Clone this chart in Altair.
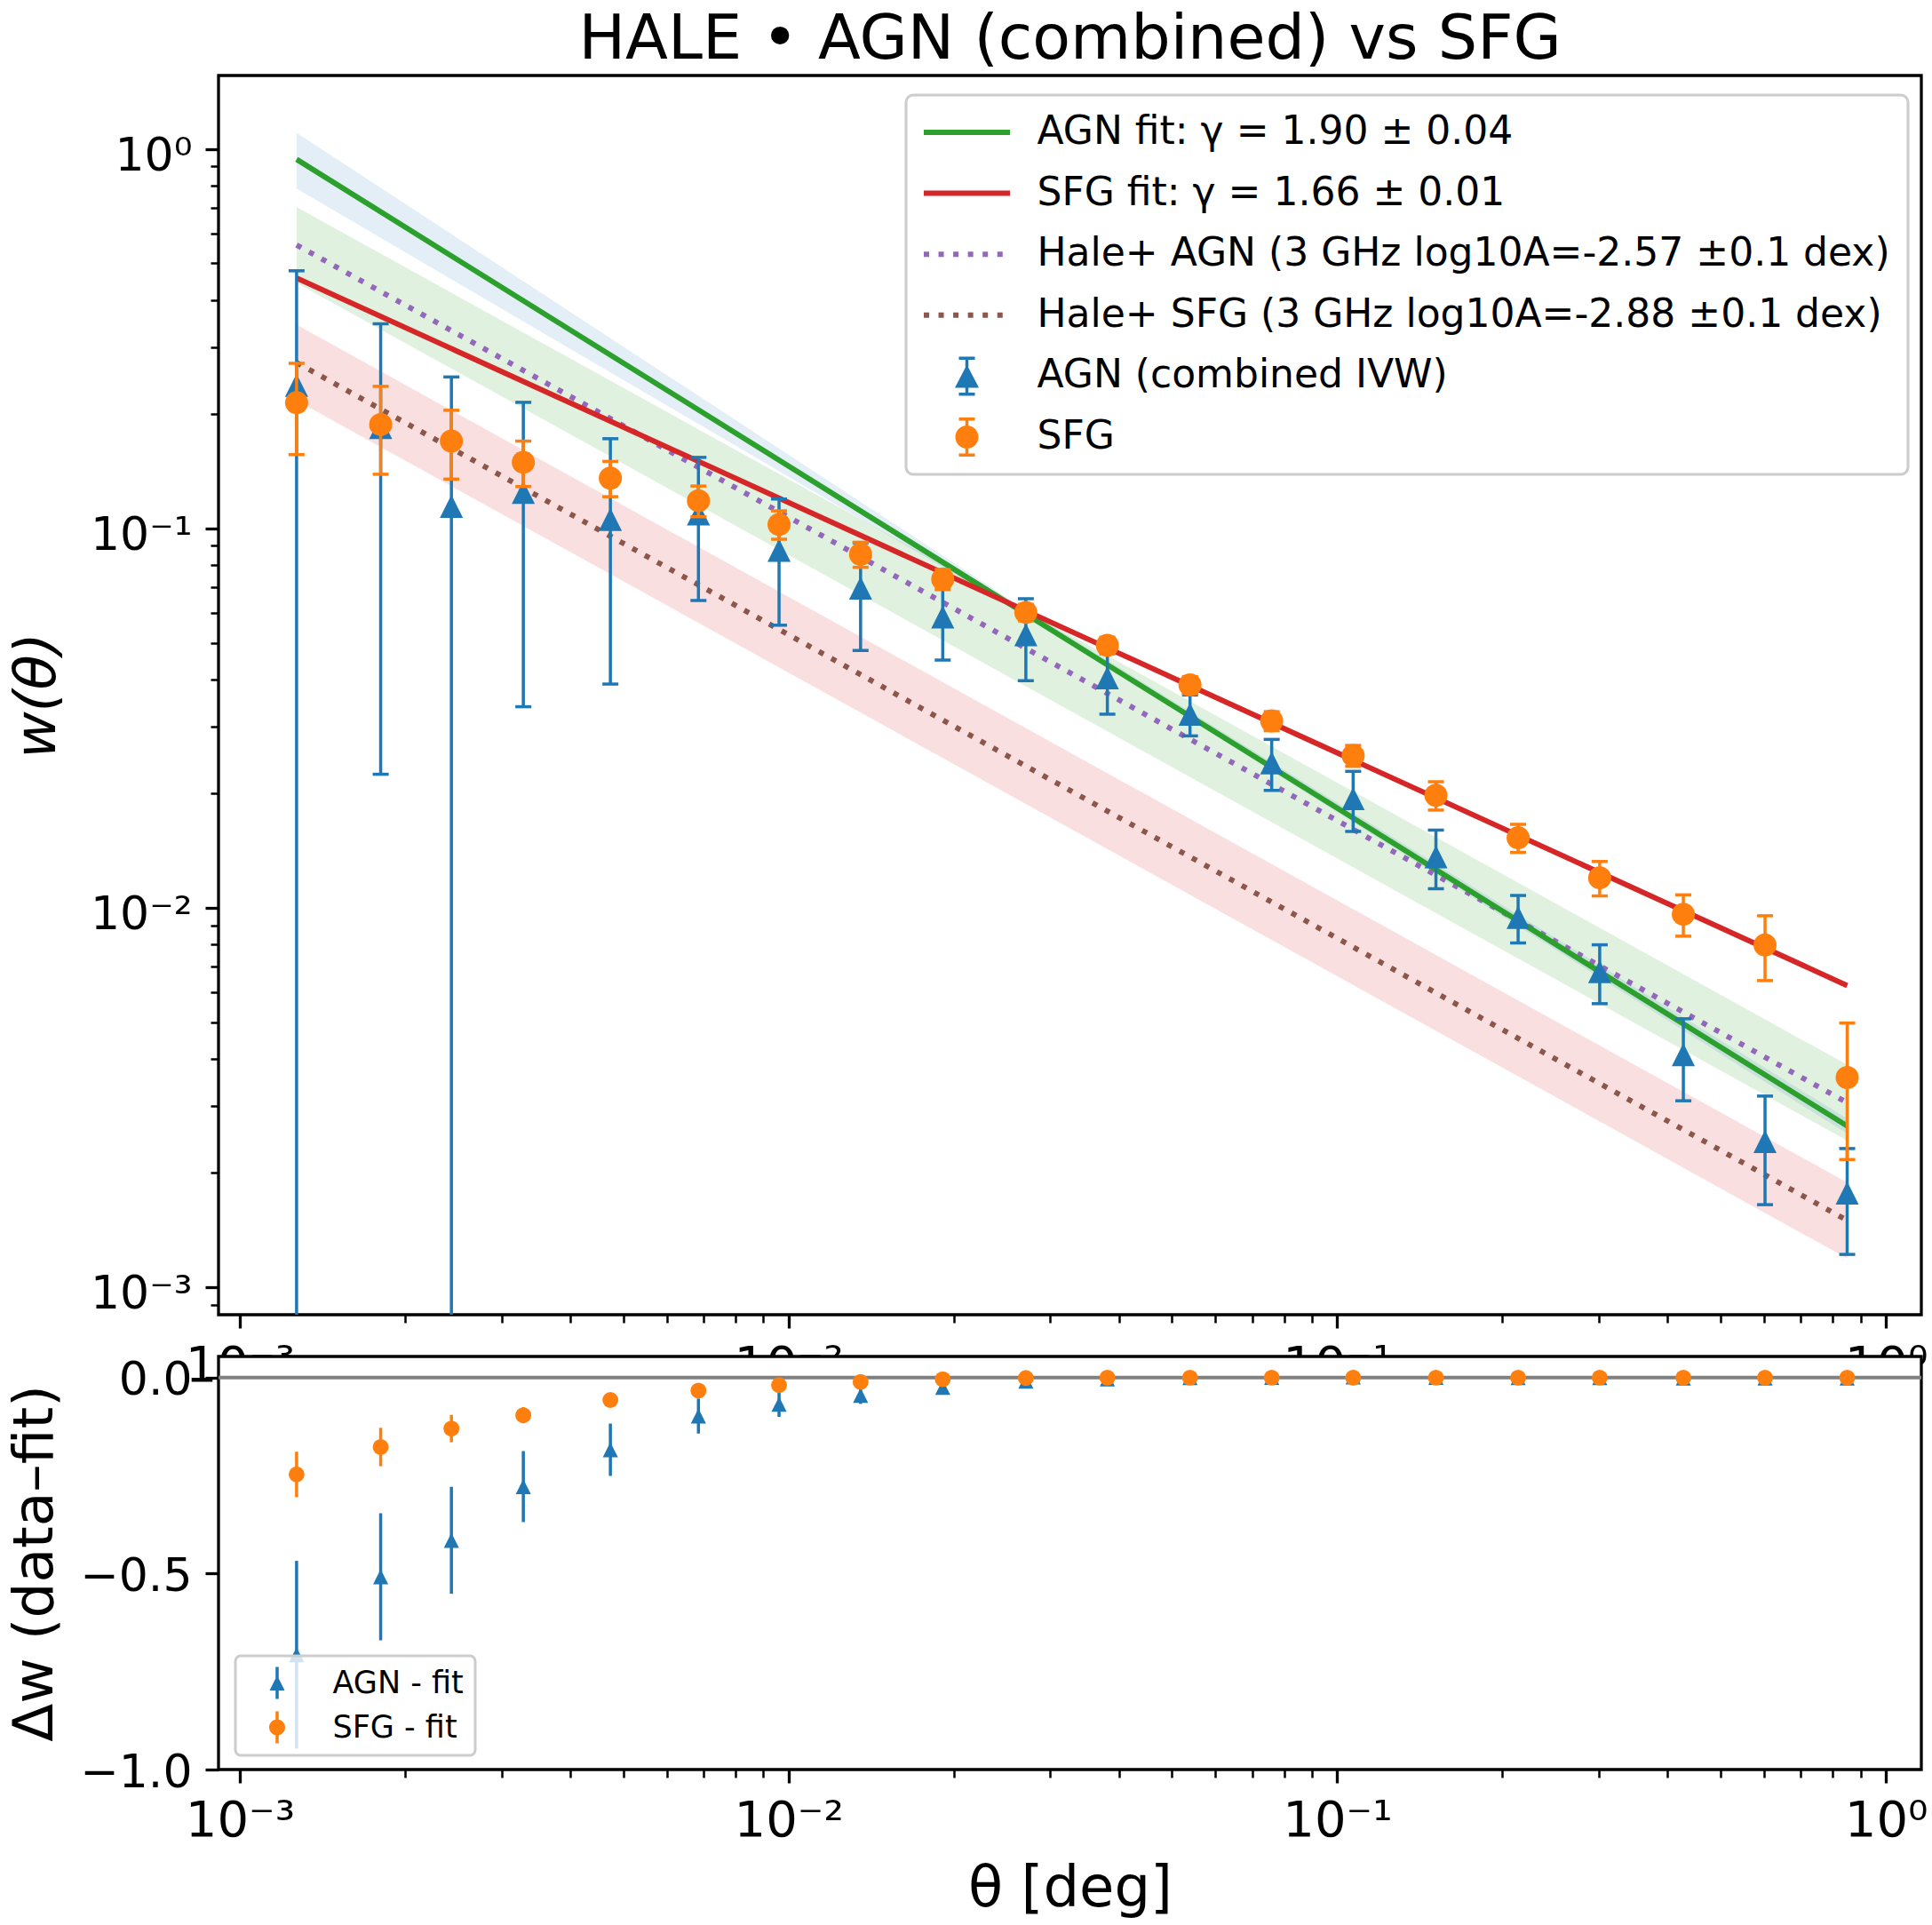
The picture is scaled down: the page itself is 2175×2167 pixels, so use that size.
import altair as alt
import pandas as pd

FONT = "DejaVu Sans"
BLUE, ORANGE, GREEN, RED, PURPLE, BROWN = "#1f77b4", "#ff7f0e", "#2ca02c", "#d62728", "#9467bd", "#8c564b"

# ---------------- data ----------------
theta = [0.001269, 0.001806, 0.002430, 0.003286, 0.004735, 0.006852, 0.00961, 0.01353, 0.01910, 0.02707,
         0.03811, 0.05391, 0.07595, 0.1069, 0.1513, 0.2136, 0.3008, 0.4273, 0.6020, 0.8498]
agn_w = [0.2385, 0.1845, 0.1144, 0.1245, 0.1057, 0.1093, 0.0876, 0.0697, 0.0585, 0.0525,
         0.0404, 0.0324, 0.0241, 0.0194, 0.01363, 0.00943, 0.00679, 0.0041, 0.00242, 0.00177]
agn_err = [0.2395, 0.162, 0.1365, 0.0906, 0.0668, 0.0447, 0.032, 0.022, 0.0135, 0.0128,
           0.008, 0.004, 0.0037, 0.0035, 0.0024, 0.00135, 0.0012, 0.001, 0.00077, 0.00055]
sfg_w = [0.2146, 0.188, 0.170, 0.1495, 0.1358, 0.1184, 0.1025, 0.0855, 0.0735, 0.0601,
         0.0492, 0.0387, 0.0311, 0.0252, 0.0198, 0.0153, 0.0120, 0.00962, 0.00798, 0.00357]
sfg_err = [0.058, 0.049, 0.035, 0.0205, 0.0145, 0.011, 0.0088, 0.0065, 0.0045, 0.003,
           0.0025, 0.002, 0.0018, 0.0016, 0.0017, 0.0013, 0.00125, 0.0012, 0.00155, 0.0014]
agn_resid = [-0.707, -0.508, -0.415, -0.278, -0.184, -0.098, -0.068, -0.045, -0.025, -0.009,
             -0.003, 0.0, 0.001, 0.002, 0.001, 0.0, 0.0, -0.001, -0.001, -0.001]
sfg_resid = [-0.247, -0.177, -0.130, -0.096, -0.057, -0.033, -0.019, -0.011, -0.004, -0.001,
             0.0, 0.0, 0.0, 0.0, 0.0, 0.0, 0.0, 0.0, 0.0, 0.0]

fit_theta = [0.001269, 0.8498]
agn_fit = [0.94, 0.00266]
sfg_fit = [0.4575, 0.00624]
hale_agn = [0.559, 0.003065]
hale_agn_hi = [0.7037, 0.003859]
hale_agn_lo = [0.444, 0.002435]
hale_sfg = [0.2738, 0.0015]
hale_sfg_hi = [0.3447, 0.001888]
hale_sfg_lo = [0.2175, 0.001191]
band_theta = [0.001269, 0.0265, 0.8498]
agn_band_hi = [1.105, 0.0622, 0.00278]
agn_band_lo = [0.7875, 0.0600, 0.00254]

x_major = [0.001, 0.01, 0.1, 1.0]
x_minor = [0.002, 0.003, 0.004, 0.005, 0.006, 0.007, 0.008, 0.009,
           0.02, 0.03, 0.04, 0.05, 0.06, 0.07, 0.08, 0.09,
           0.2, 0.3, 0.4, 0.5, 0.6, 0.7, 0.8, 0.9]
y_major = [0.001, 0.01, 0.1, 1.0]
y_minor = [0.0009] + x_minor
res_ticks = [0.0, -0.5, -1.0]
zero_line = [0.0]

legend_labels = ["AGN fit: γ = 1.90 ± 0.04", "SFG fit: γ = 1.66 ± 0.01",
                 "Hale+ AGN (3 GHz log10A=-2.57 ±0.1 dex)", "Hale+ SFG (3 GHz log10A=-2.88 ±0.1 dex)",
                 "AGN (combined IVW)", "SFG"]
res_legend_labels = ["AGN - fit", "SFG - fit"]

# ---------------- layout / style ----------------
W, H_TOP, H_BOT = 1917, 1395, 465
XS = alt.Scale(type="log", domain=[9.145e-4, 1.16], nice=False)
YS = alt.Scale(type="log", domain=[8.46e-4, 1.564], nice=False)
RS = alt.Scale(domain=[-1.0, 0.054], nice=False, zero=False)

POW = ("datum.value >= 0.5 ? '10⁰' : datum.value >= 0.05 ? '10⁻¹' : "
       "datum.value >= 0.005 ? '10⁻²' : '10⁻³'")

def major_axis(orient, values, expr, size, pad, offset=0, **kw):
    return alt.Axis(orient=orient, values=values, labelExpr=expr, labelFont=FONT, labelFontSize=size,
                    labelColor="black", labelPadding=pad, labelOffset=offset, labelFlush=False,
                    labelOverlap=False, tickSize=15, tickWidth=3.3, tickColor="black",
                    domain=False, grid=False, **kw)

def minor_axis(orient, values):
    return alt.Axis(orient=orient, values=values, labels=False, tickSize=9, tickWidth=2.5,
                    tickColor="black", domain=False, grid=False, title=None)

X_MAJ_TOP = major_axis("bottom", x_major, POW, 56, 15, title=None)
X_MAJ_BOT = major_axis("bottom", x_major, POW, 56, 15, title="θ [deg]", titleFont=FONT, titleFontSize=64,
                       titleFontWeight="normal", titleColor="black", titleX=W / 2, titleY=134,
                       titleBaseline="middle", titleAlign="center", titleAngle=0)
Y_MAJ_TOP = major_axis("left", y_major, POW, 52, 15, offset=8, title="w(θ)", titleFont=FONT,
                       titleFontSize=64, titleFontStyle="italic", titleFontWeight="normal",
                       titleColor="black", titleX=-204, titleY=H_TOP / 2, titleAngle=270,
                       titleBaseline="middle", titleAlign="center")
RES_EXPR = "datum.value == 0 ? '0.0' : datum.value == -0.5 ? '−0.5' : '−1.0'"
Y_MAJ_BOT = major_axis("left", res_ticks, RES_EXPR, 52, 15, offset=3, title="Δw (data–fit)",
                       titleFont=FONT, titleFontSize=63, titleFontWeight="normal", titleColor="black",
                       titleX=-207, titleY=H_BOT / 2, titleAngle=270, titleBaseline="middle",
                       titleAlign="center")

def X(axis=None):
    return alt.X("theta:Q", scale=XS, axis=axis)

def YT(field, axis=None):
    return alt.Y(f"{field}:Q", scale=YS, axis=axis)

def YR(field, axis=None):
    return alt.Y(f"{field}:Q", scale=RS, axis=axis)

df = pd.DataFrame(dict(theta=theta, agn=agn_w, agn_err=agn_err, sfg=sfg_w, sfg_err=sfg_err,
                       agn_res=agn_resid, sfg_res=sfg_resid))
line_df = pd.DataFrame(dict(theta=fit_theta, agn_fit=agn_fit, sfg_fit=sfg_fit, hale_agn=hale_agn,
                            hale_agn_hi=hale_agn_hi, hale_agn_lo=hale_agn_lo, hale_sfg=hale_sfg,
                            hale_sfg_hi=hale_sfg_hi, hale_sfg_lo=hale_sfg_lo))
band_df = pd.DataFrame(dict(theta=band_theta, hi=agn_band_hi, lo=agn_band_lo))

TRI = "M0,-1L-1,1L1,1Z"

# ---------------- top panel ----------------
red_band = alt.Chart(line_df).mark_area(color=RED, opacity=0.15).encode(
    x=X(), y=YT("hale_sfg_lo"), y2="hale_sfg_hi:Q")
green_band = alt.Chart(line_df).mark_area(color=GREEN, opacity=0.15).encode(
    x=X(), y=YT("hale_agn_lo"), y2="hale_agn_hi:Q")
blue_band = alt.Chart(band_df).mark_area(color=BLUE, opacity=0.12).encode(
    x=X(), y=YT("lo"), y2="hi:Q")
purple_line = alt.Chart(line_df).mark_line(color=PURPLE, strokeWidth=6, strokeDash=[6, 10]).encode(
    x=X(), y=YT("hale_agn"))
brown_line = alt.Chart(line_df).mark_line(color=BROWN, strokeWidth=6, strokeDash=[6, 10]).encode(
    x=X(), y=YT("hale_sfg"))
green_line = alt.Chart(line_df).mark_line(color=GREEN, strokeWidth=6).encode(x=X(), y=YT("agn_fit"))
red_line = alt.Chart(line_df).mark_line(color=RED, strokeWidth=6).encode(x=X(), y=YT("sfg_fit"))


def top_errorbars(field, efield, color):
    base = alt.Chart(df).transform_calculate(
        hi=f"datum.{field} + datum.{efield}",
        lo=f"max(datum.{field} - datum.{efield}, 1e-9)",
        lo_raw=f"datum.{field} - datum.{efield}")
    rule = base.mark_rule(color=color, strokeWidth=3.5, clip=True).encode(x=X(), y=YT("lo"), y2="hi:Q")
    cap_hi = base.mark_tick(orient="horizontal", size=18, thickness=3.5, color=color, opacity=1,
                            clip=True).encode(x=X(), y=YT("hi"))
    cap_lo = base.transform_filter("datum.lo_raw > 0").mark_tick(
        orient="horizontal", size=18, thickness=3.5, color=color, opacity=1, clip=True).encode(
        x=X(), y=YT("lo_raw"))
    return [rule, cap_hi, cap_lo]


agn_pts = alt.Chart(df).mark_point(shape=TRI, size=676, filled=True, color=BLUE, opacity=1,
                                   strokeWidth=0).encode(x=X(X_MAJ_TOP), y=YT("agn", Y_MAJ_TOP))
sfg_pts = alt.Chart(df).mark_point(shape="circle", size=676, filled=True, color=ORANGE, opacity=1,
                                   strokeWidth=0).encode(x=X(minor_axis("bottom", x_minor)),
                                                         y=YT("sfg", minor_axis("left", y_minor)))

# legend symbols (shape definitions, 20 px per unit)
INV = "M-2.425,-1.1L-2.42,-1.1M-2.425,1.1L-2.42,1.1"
SOLID = INV + "M-2.425,-0.15H2.425V0.15H-2.425Z"
DOTS = INV + "".join(
    f"M{-2.425 + i * 0.8275:.4f},-0.15H{-2.425 + i * 0.8275 + 0.3:.4f}V0.15H{-2.425 + i * 0.8275:.4f}Z"
    for i in range(6))
EB = INV + "M-0.45,-1.1H0.45V-0.925H-0.45Z" + "M-0.45,0.925H0.45V1.1H-0.45Z" + "M-0.0875,-1H0.0875V1H-0.0875Z"
AGN_SYM = EB + "M0,-0.65L0.675,0.65L-0.675,0.65Z"
SFG_SYM = EB + "M0.65,0A0.65,0.65,0,1,1,-0.65,0A0.65,0.65,0,1,1,0.65,0Z"
legend_paths = [SOLID, SOLID, DOTS, DOTS, AGN_SYM, SFG_SYM]
legend_colors = [GREEN, RED, PURPLE, BROWN, BLUE, ORANGE]

LEG_TOP = alt.Legend(title=None, orient="none", legendX=774, legendY=22, symbolSize=1600,
                     symbolStrokeWidth=0, symbolOpacity=1, symbolOffset=26.5, labelOffset=57,
                     labelFont=FONT, labelFontSize=44, labelColor="black", labelLimit=1500,
                     rowPadding=24.6, padding=20, fillColor="rgba(255,255,255,0.8)",
                     strokeColor="#cccccc", cornerRadius=8)
legend_top = alt.Chart(pd.DataFrame({"series": legend_labels})).transform_filter("false").mark_point(
    filled=True, opacity=1).encode(
    x=X(), y=YT("w"),
    fill=alt.Fill("series:N", scale=alt.Scale(domain=legend_labels, range=legend_colors), legend=LEG_TOP),
    shape=alt.Shape("series:N", scale=alt.Scale(domain=legend_labels, range=legend_paths), legend=LEG_TOP))

top = alt.layer(
    red_band, green_band, blue_band, purple_line, brown_line, green_line, red_line,
    *top_errorbars("agn", "agn_err", BLUE), agn_pts,
    *top_errorbars("sfg", "sfg_err", ORANGE), sfg_pts,
    legend_top,
).properties(
    width=W, height=H_TOP,
    title=alt.TitleParams("HALE • AGN (combined) vs SFG", font=FONT, fontSize=70, fontWeight="normal",
                          color="black", anchor="middle", baseline="top", offset=4, frame="group"),
).resolve_axis(x="independent", y="independent")

# ---------------- residual panel ----------------
zero_rule = alt.Chart(pd.DataFrame({"y": zero_line})).mark_rule(color="#808080", strokeWidth=4).encode(
    y=YR("y"))


def res_errorbars(field, efield, color):
    return alt.Chart(df).transform_calculate(
        hi=f"datum.{field} + datum.{efield}", lo=f"datum.{field} - datum.{efield}").mark_rule(
        color=color, strokeWidth=3.5, clip=True).encode(x=X(), y=YR("lo"), y2="hi:Q")


agn_res_pts = alt.Chart(df).mark_point(shape=TRI, size=290, filled=True, color=BLUE, opacity=1,
                                       strokeWidth=0).encode(x=X(X_MAJ_BOT), y=YR("agn_res", Y_MAJ_BOT))
sfg_res_pts = alt.Chart(df).mark_point(shape="circle", size=320, filled=True, color=ORANGE, opacity=1,
                                       strokeWidth=0).encode(x=X(minor_axis("bottom", x_minor)),
                                                             y=YR("sfg_res"))

INV_L = "M-2.27,-1.2L-2.26,-1.2M-2.27,1.2L-2.26,1.2"
BAR_L = "M-0.117,-1.2H0.117V1.2H-0.117Z"
res_paths = [INV_L + BAR_L + "M0,-0.567L0.567,0.567L-0.567,0.567Z",
             INV_L + BAR_L + "M0.6,0A0.6,0.6,0,1,1,-0.6,0A0.6,0.6,0,1,1,0.6,0Z"]
LEG_BOT = alt.Legend(title=None, orient="none", legendX=19, legendY=337, symbolSize=900,
                     symbolStrokeWidth=0, symbolOpacity=1, symbolOffset=16.5, labelOffset=45,
                     labelFont=FONT, labelFontSize=35, labelColor="black", labelLimit=800,
                     rowPadding=13, padding=13, fillColor="rgba(255,255,255,0.8)",
                     strokeColor="#cccccc", cornerRadius=6)
legend_bot = alt.Chart(pd.DataFrame({"series": res_legend_labels})).transform_filter("false").mark_point(
    filled=True, opacity=1).encode(
    x=X(), y=YR("w"),
    fill=alt.Fill("series:N", scale=alt.Scale(domain=res_legend_labels, range=[BLUE, ORANGE]),
                  legend=LEG_BOT),
    shape=alt.Shape("series:N", scale=alt.Scale(domain=res_legend_labels, range=res_paths), legend=LEG_BOT))

bottom = alt.layer(
    zero_rule,
    res_errorbars("agn_res", "agn_err", BLUE), agn_res_pts,
    res_errorbars("sfg_res", "sfg_err", ORANGE), sfg_res_pts,
    legend_bot,
).properties(width=W, height=H_BOT).resolve_axis(x="independent", y="independent")

chart = alt.vconcat(top, bottom, spacing=47, bounds="flush").resolve_scale(
    fill="independent", shape="independent"
).properties(
    autosize=alt.AutoSizeParams(type="none"),
    padding={"left": 246, "top": 85, "right": 2175 - 246 - W, "bottom": 2167 - 85},
    background="white",
).configure(font=FONT).configure_view(fill="white", stroke="black", strokeWidth=3.3).configure_legend(
    strokeWidth=3)

chart.save("out.html", embed_options={"renderer": "svg", "actions": False})
